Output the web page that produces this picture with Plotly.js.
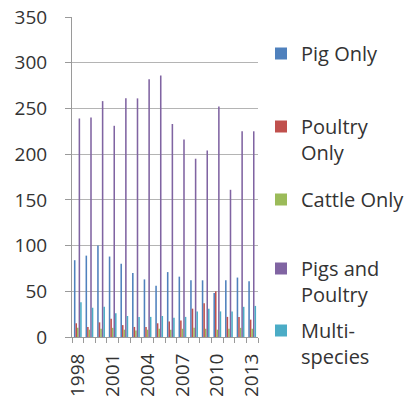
<!DOCTYPE html>
<html>
<head>
<meta charset="utf-8">
<script src="https://cdn.plot.ly/plotly-3.0.1.min.js"></script>
<style>html,body{margin:0;padding:0;background:#fff;}#chart{width:411px;height:400px;}</style>
</head>
<body>
<div id="chart"></div>
<script>
const years = [1998,1999,2000,2001,2002,2003,2004,2005,2006,2007,2008,2009,2010,2011,2012,2013];
const tickYears = [1998,2001,2004,2007,2010,2013];
const pigOnly = [84,89,100,88,80,70,63,56,71,66,62,62,48,62,65,61];
const poultryOnly = [15,11,16,20,13,11,11,15,17,18,31,37,50,22,22,19];
const cattleOnly = [10,8,9,10,8,7,8,9,8,9,10,9,8,9,10,9];
const pigsAndPoultry = [239,240,258,231,261,261,282,286,233,216,195,204,252,161,225,225];
const multiSpecies = [38,32,33,26,23,22,22,23,21,22,28,31,28,28,33,34];

const seriesNames = ['Pig Only','Poultry<br>Only','Cattle Only','Pigs and<br>Poultry','Multi-<br>species'];
const seriesData = [pigOnly, poultryOnly, cattleOnly, pigsAndPoultry, multiSpecies];
const colors = ['#4F81BD','#C0504D','#9BBB59','#8064A2','#4BACC6'];
const legendIds = ['legend','legend2','legend3','legend4','legend5'];

const traces = seriesData.map((vals, i) => ({
  type: 'bar', x: years, y: vals, name: seriesNames[i],
  marker: {color: colors[i], line: {width: 0}},
  legend: legendIds[i]
}));

const font = {family: 'Open Sans, sans-serif', size: 19, color: '#333333'};
const legendTops = [34, 107, 180, 249, 311];
const layout = {
  width: 411, height: 400,
  margin: {l: 72, r: 153, t: 17, b: 63, autoexpand: false},
  paper_bgcolor: '#ffffff', plot_bgcolor: '#ffffff',
  font: font,
  barmode: 'group', bargap: 0.33, bargroupgap: 0,
  showlegend: true,
  xaxis: {
    range: [1997.5, 2013.5], tickmode: 'array', tickvals: tickYears, ticktext: tickYears.map(String),
    tickangle: -90, ticks: '', showgrid: false, zeroline: false,
    showline: true, linecolor: '#9a9a9a', linewidth: 1,
    tickfont: {family: 'Open Sans, sans-serif', size: 19, color: '#333333'},
    ticklabelstandoff: 8,
    minor: {ticks: 'outside', ticklen: 5, tickcolor: '#9a9a9a', tick0: 1997.5, dtick: 1, showgrid: false}
  },
  yaxis: {
    range: [0, 350], dtick: 50, tick0: 0, ticks: 'outside', ticklen: 6, tickcolor: '#9a9a9a',
    showgrid: true, gridcolor: '#b4b4b4', gridwidth: 1, zeroline: false,
    showline: true, linecolor: '#9a9a9a', linewidth: 1,
    tickfont: {family: 'Open Sans, sans-serif', size: 19, color: '#333333'},
    ticklabelstandoff: 14
  }
};
const plotW = 411 - 72 - 153;
legendIds.forEach((id, i) => {
  layout[id] = {
    x: (261 - 72) / plotW, xanchor: 'left',
    y: (337 - legendTops[i]) / 320, yanchor: 'top',
    bgcolor: 'rgba(0,0,0,0)', borderwidth: 0, valign: 'top',
    font: {family: 'Open Sans, sans-serif', size: 20, color: '#333333'},
    itemwidth: 30
  };
});
Plotly.newPlot('chart', traces, layout, {displayModeBar: false, staticPlot: true});
</script>
</body>
</html>
